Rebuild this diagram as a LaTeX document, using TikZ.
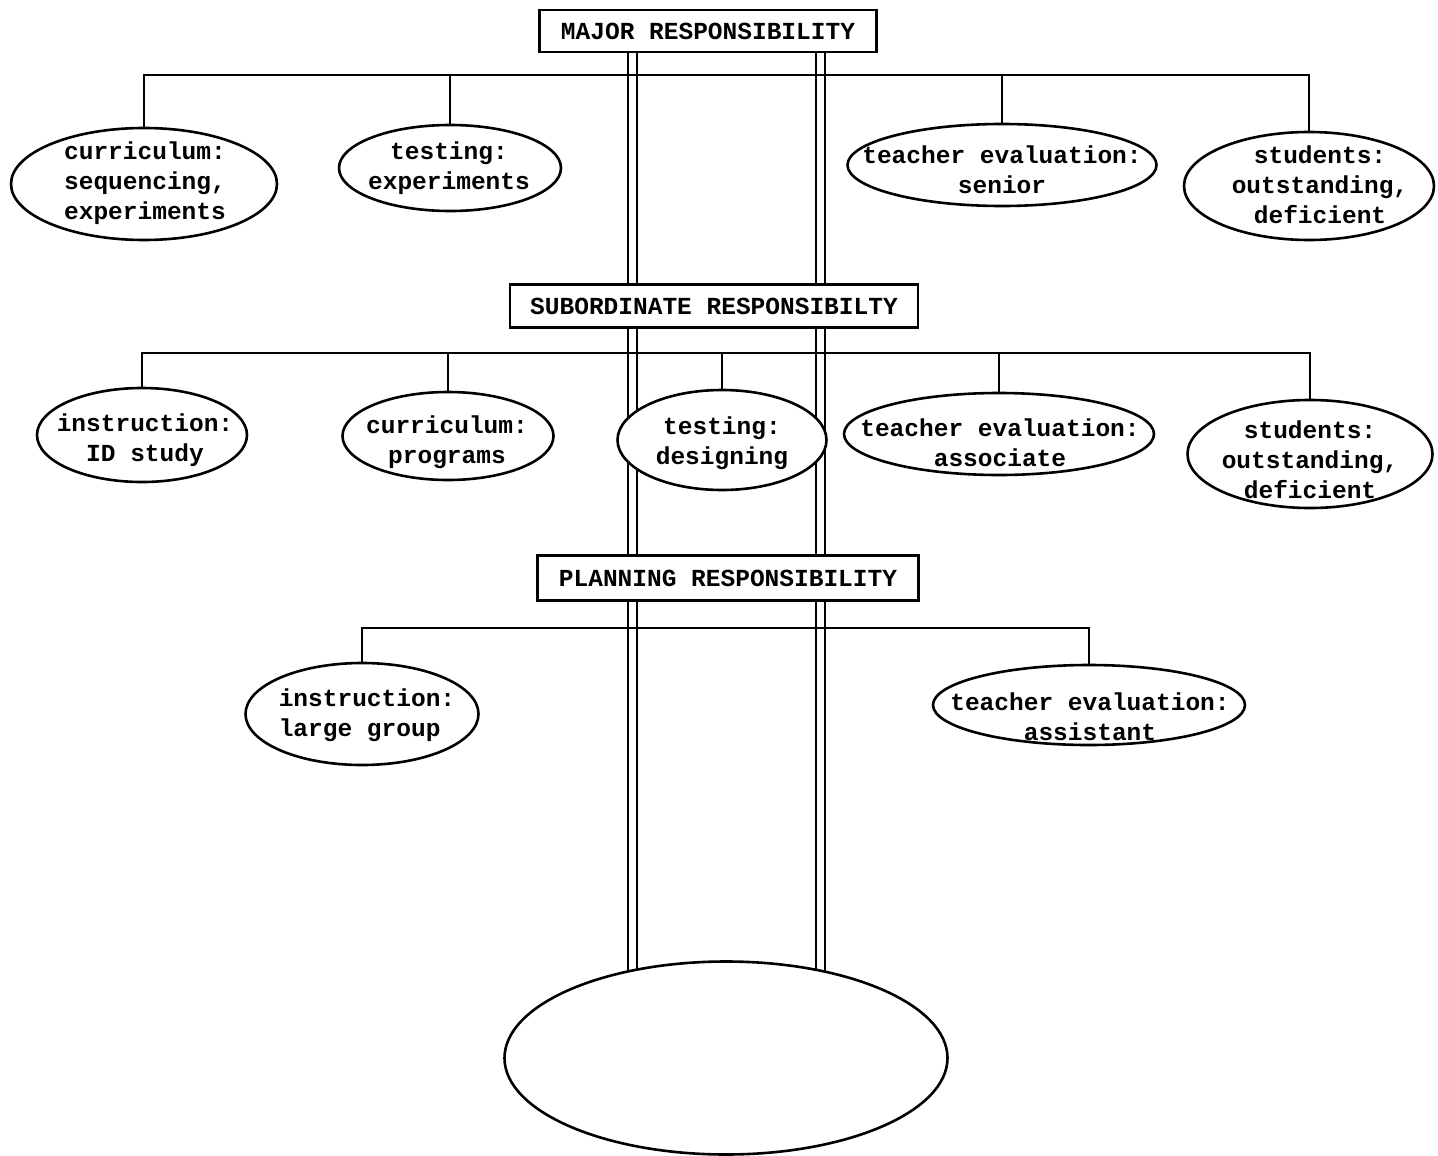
\documentclass[tikz,border=0pt]{standalone}
\usepackage{fontspec}
\setmonofont{Liberation Mono}
\usetikzlibrary{shapes.geometric,backgrounds}
\begin{document}
\begin{tikzpicture}[x=1pt,y=-1pt,line width=2.6pt,
  lbl/.style={font=\ttfamily\bfseries\fontsize{24.5}{30}\selectfont,align=center,inner sep=0pt},
  bubble/.style={ellipse,draw,fill=white,inner sep=0pt,line width=2.6pt},
  titlebox/.style={lbl,rectangle,draw,fill=white,inner sep=0pt,line width=2.6pt},
  wire/.style={line width=2.6pt,line cap=rect},
  rail/.style={line width=2.4pt}]
\useasboundingbox (0,0) rectangle (1438,1156);

% title boxes
\node[titlebox,minimum width=337,minimum height=42] (major) at (708,31) {MAJOR RESPONSIBILITY};
\node[titlebox,minimum width=408,minimum height=43] (sub) at (714,306) {SUBORDINATE RESPONSIBILTY};
\node[titlebox,minimum width=381,minimum height=45] (plan) at (728,578) {PLANNING RESPONSIBILITY};

% row 1
\node[bubble,minimum width=266,minimum height=112] (m1) at (144,184) {};
\node[lbl] (m1t) at (145,183) {curriculum:\\sequencing,\\experiments};
\node[bubble,minimum width=222,minimum height=86] (m2) at (450,168) {};
\node[lbl] (m2t) at (449,168) {testing:\\experiments};
\node[bubble,minimum width=309,minimum height=82] (m3) at (1002,165) {};
\node[lbl] (m3t) at (1002,170) {teacher evaluation:\\senior};
\node[bubble,minimum width=250,minimum height=108] (m4) at (1309,186) {};
\node[lbl] (m4t) at (1320,185) {students:\\outstanding,\\deficient};

% row 2
\node[bubble,minimum width=210,minimum height=94] (s1) at (142,435) {};
\node[lbl] (s1t) at (145,440) {instruction:\\ID study};
\node[bubble,minimum width=211,minimum height=88] (s2) at (448,436) {};
\node[lbl] (s2t) at (447,442) {curriculum:\\programs};
\node[bubble,minimum width=209,minimum height=100] (s3) at (722,440) {};
\node[lbl] (s3t) at (722,443) {testing:\\designing};
\node[bubble,minimum width=310,minimum height=82] (s4) at (999,434) {};
\node[lbl] (s4t) at (1000,443) {teacher evaluation:\\associate};
\node[bubble,minimum width=245,minimum height=108] (s5) at (1310,454) {};
\node[lbl] (s5t) at (1310,460) {students:\\outstanding,\\deficient};

% row 3
\node[bubble,minimum width=233,minimum height=102] (p1) at (362,714) {};
\node[lbl,align=left] (p1t) at (367,715) {instruction:\\large group};
\node[bubble,minimum width=312,minimum height=80] (p2) at (1089,705) {};
\node[lbl] (p2t) at (1090,717) {teacher evaluation:\\assistant};

% bottom ellipse
\node[bubble,minimum width=443,minimum height=193] (base) at (726,1058) {};

% bar levels
\coordinate (b1) at (0,75);
\coordinate (b2) at (0,353);
\coordinate (b3) at (0,628);
% rail coordinates
\coordinate (r1) at (628,0); \coordinate (r2) at (637,0);
\coordinate (r3) at (816,0); \coordinate (r4) at (825,0);

\begin{scope}[on background layer]
  % double rails
  \foreach \r in {r1,r2,r3,r4}
    \draw[rail] (major.south -| \r) -- (base.center -| \r);
  % bars
  \draw[wire] (m1.north |- b1) -- (m4.north |- b1);
  \draw[wire] (s1.north |- b2) -- (s5.north |- b2);
  \draw[wire] (p1.north |- b3) -- (p2.north |- b3);
  % drops
  \foreach \n in {m1,m2,m3,m4} \draw[wire] (\n.north |- b1) -- (\n.north);
  \foreach \n in {s1,s2,s3,s4,s5} \draw[wire] (\n.north |- b2) -- (\n.north);
  \foreach \n in {p1,p2} \draw[wire] (\n.north |- b3) -- (\n.north);
\end{scope}
\end{tikzpicture}
\end{document}
